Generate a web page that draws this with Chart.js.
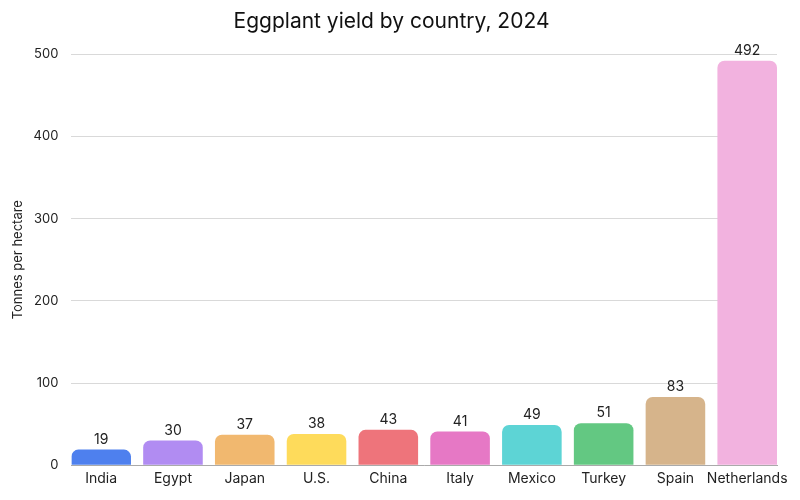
<!DOCTYPE html>
<html lang="en">
<head>
    <meta charset="UTF-8">
    <title>Eggplant yield</title>
    <script src="https://cdn.jsdelivr.net/npm/chart.js"></script>
    <style>
        html, body { margin: 0; padding: 0; background: #fff; }
    </style>
</head>
<body>
    <canvas id="yieldChart" width="800" height="500"></canvas>

    <script>
        const countries = ['India', 'Egypt', 'Japan', 'U.S.', 'China', 'Italy', 'Mexico', 'Turkey', 'Spain', 'Netherlands'];
        const yields = [19, 30, 37, 38, 43, 41, 49, 51, 83, 492];
        const barColors = ['#4e80ee', '#b18cf2', '#f1b86f', '#fedb5b', '#ee747b', '#e678c5', '#5dd4d5', '#63c882', '#d6b48b', '#f2b2df'];
        const yTicks = [0, 100, 200, 300, 400, 500];

        const barPct = 0.83;

        Chart.defaults.font.family = 'Inter, sans-serif';
        Chart.defaults.color = '#222';

        // numbers above each bar
        const valueLabels = {
            id: 'valueLabels',
            afterDatasetsDraw(chart) {
                const ctx = chart.ctx;
                const meta = chart.getDatasetMeta(0);
                ctx.save();
                ctx.font = '14px Inter, sans-serif';
                ctx.fillStyle = '#222';
                ctx.textAlign = 'center';
                ctx.textBaseline = 'bottom';
                meta.data.forEach((bar, i) => {
                    ctx.fillText(yields[i], bar.x, bar.y - 3);
                });
                ctx.restore();
            }
        };

        new Chart(document.getElementById('yieldChart'), {
            type: 'bar',
            data: {
                labels: countries,
                datasets: [{
                    data: yields,
                    backgroundColor: barColors,
                    borderRadius: { topLeft: 7, topRight: 7 },
                    borderSkipped: 'bottom',
                    barPercentage: barPct,
                    categoryPercentage: 1
                }]
            },
            options: {
                responsive: false,
                animation: false,
                layout: { padding: { left: 6, right: 23, top: 0, bottom: 8 } },
                plugins: {
                    legend: { display: false },
                    tooltip: { enabled: false },
                    title: {
                        display: true,
                        text: 'Eggplant yield by country, 2024',
                        font: { size: 21, weight: 'normal' },
                        color: '#111',
                        padding: { top: 9, bottom: 20 }
                    }
                },
                scales: {
                    x: {
                        grid: { display: false, drawTicks: false, tickLength: 0 },
                        border: { color: '#aaa' },
                        ticks: { font: { size: 14 }, color: '#222', padding: 5, maxRotation: 0, autoSkip: false },
                        // the first and last bars sit right on the ends of the plot
                        afterBuildTicks(axis) {
                            const half = (1 - barPct) / 2;
                            axis._startValue = -0.5 + half;
                            axis._valueRange = countries.length - 2 * half;
                        }
                    },
                    y: {
                        min: 0,
                        max: 500,
                        afterBuildTicks(axis) {
                            axis.ticks = yTicks.map(v => ({ value: v }));
                        },
                        grid: { color: '#d9d9d9', drawTicks: false },
                        border: { display: false },
                        ticks: { font: { size: 13 }, color: '#222', padding: 13 },
                        title: {
                            display: true,
                            text: 'Tonnes per hectare',
                            font: { size: 13 },
                            color: '#222',
                            padding: { top: 4, bottom: -5 }
                        }
                    }
                }
            },
            plugins: [valueLabels]
        });
    </script>
</body>
</html>
